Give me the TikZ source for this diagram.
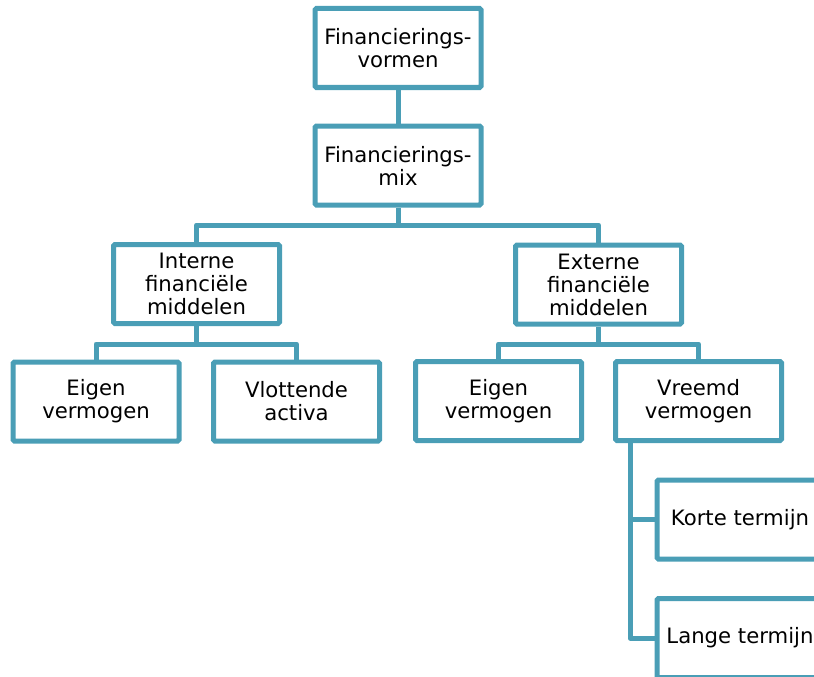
\documentclass[tikz,border=0pt]{standalone}
\usepackage{fontspec}
\setmainfont{DejaVu Sans}
\definecolor{teal}{RGB}{74,158,182}
\begin{document}
\begin{tikzpicture}[x=1pt,y=-1pt,
  box/.style={draw=teal, line width=5pt, fill=white, rounded corners=1.5pt,
    minimum width=166pt, minimum height=79pt, inner sep=2pt, align=center,
    font=\fontsize{21.2}{23}\selectfont, text=black},
  link/.style={draw=teal, line width=5pt, line join=round}]
\useasboundingbox (0,0) rectangle (814,677);
\clip (0,0) rectangle (814,677);

% connector levels
\coordinate (bar1) at (398,225);
\coordinate (bar2) at (196.5,344);
\coordinate (bar3) at (598.5,344);

% nodes
\node[box] (vormen) at (398,48) {Financierings-\\vormen};
\node[box] (mix) at (398,165.5) {Financierings-\\mix};
\node[box] (intern) at (196.5,284) {Interne\\financiële\\middelen};
\node[box] (extern) at (598.5,284.5) {Externe\\financiële\\middelen};
\node[box] (eigenI) at (96,401.5) {Eigen\\vermogen};
\node[box] (vlot) at (296.5,401.5) {Vlottende\\activa};
\node[box] (eigenE) at (498.5,401) {Eigen\\vermogen};
\node[box] (vreemd) at (698.5,401) {Vreemd\\vermogen};
\node[box] (kort) at (740,519.5) {Korte termijn};
\node[box] (lang) at (740,638) {Lange termijn};

% connectors
\draw[link] (vormen.south) -- (mix.north);
\draw[link] (mix.south) -- (bar1) -| (intern.north);
\draw[link] (bar1) -| (extern.north);
\draw[link] (intern.south) -- (bar2) -| (eigenI.north);
\draw[link] (bar2) -| (vlot.north);
\draw[link] (extern.south) -- (bar3) -| (eigenE.north);
\draw[link] (bar3) -| (vreemd.north);
\draw[link] ([xshift=17pt]vreemd.south west) |- (kort.west);
\draw[link] ([xshift=17pt]vreemd.south west) |- (lang.west);
\end{tikzpicture}
\end{document}
